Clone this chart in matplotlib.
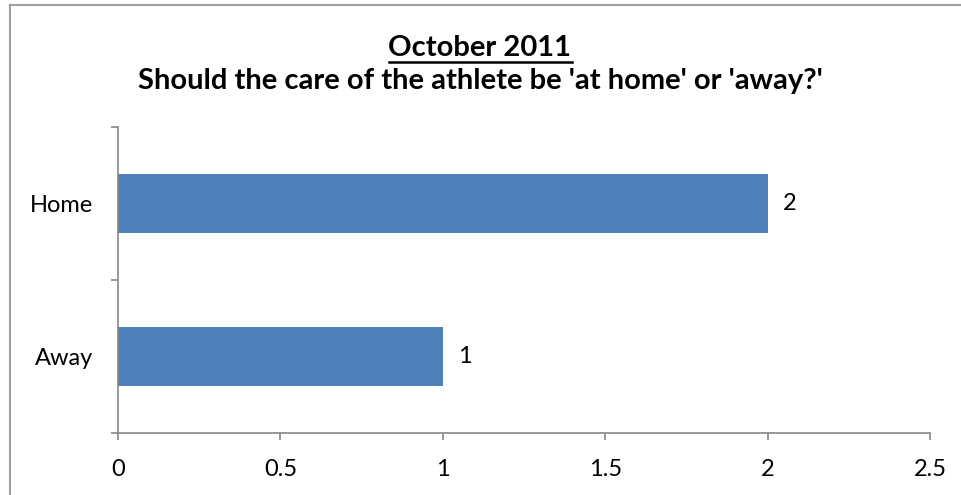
import matplotlib
matplotlib.use("Agg")
import matplotlib.pyplot as plt
from matplotlib.lines import Line2D

categories = ["Away", "Home"]
values = [1, 2]
xticks = [0, 0.5, 1, 1.5, 2, 2.5]
xticklabels = ["0", "0.5", "1", "1.5", "2", "2.5"]
title1 = "October 2011"
title2 = "Should the care of the athlete be 'at home' or 'away?'"

plt.rcParams['font.family'] = ['Lato', 'DejaVu Sans']

W, H = 961, 495
fig = plt.figure(figsize=(W / 100, H / 100), dpi=100)
ax = fig.add_axes([118 / W, 62 / H, 812 / W, 306 / H])

ypos = list(range(len(categories)))
ax.barh(ypos, values, height=0.38, color="#4F81BD")
ax.set_xlim(0, 2.5)
ax.set_ylim(-0.5, len(categories) - 0.5)
ax.set_xticks(xticks)
ax.set_xticklabels(xticklabels, fontsize=17)
ax.set_yticks(ypos)
ax.set_yticklabels(categories, fontsize=17)
ax.set_yticks([-0.5, 0.5, 1.5], minor=True)
ax.tick_params(axis='y', which='major', length=0, pad=18)
ax.tick_params(axis='y', which='minor', length=5, color='#888888', width=1.2)
ax.tick_params(axis='x', length=5, color='#888888', width=1.2, pad=14)
for s in ['top', 'right']:
    ax.spines[s].set_visible(False)
for s in ['left', 'bottom']:
    ax.spines[s].set_color('#888888')
    ax.spines[s].set_linewidth(1.2)

for y, v in zip(ypos, values):
    ax.annotate(str(v), (v, y), xytext=(11, 0), textcoords='offset points',
                va='center', ha='left', fontsize=17)

t1 = fig.text(480 / W, 1 - 48 / H, title1, ha='center', va='center',
              fontsize=21, fontweight='bold')
fig.text(480 / W, 1 - 81 / H, title2, ha='center', va='center',
         fontsize=21, fontweight='bold')

fig.canvas.draw()
bb = t1.get_window_extent()
uy = bb.y0 - 1
fig.add_artist(Line2D([bb.x0 / W, bb.x1 / W], [uy / H, uy / H],
                      transform=fig.transFigure, color='black', lw=1.8))

# figure border (top and left visible)
fig.add_artist(Line2D([10 / W, 1], [1 - 5 / H, 1 - 5 / H], transform=fig.transFigure,
                      color='#A0A0A0', lw=1.5))
fig.add_artist(Line2D([10 / W, 10 / W], [0, 1 - 5 / H], transform=fig.transFigure,
                      color='#A0A0A0', lw=1.5))

fig.savefig("out.png", dpi=100)
